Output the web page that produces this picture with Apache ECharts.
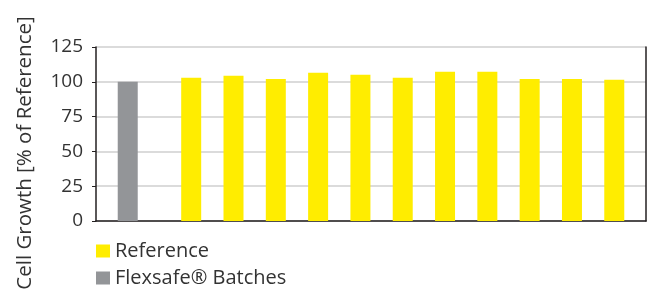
<!DOCTYPE html>
<html>
<head>
<meta charset="utf-8">
<script src="https://cdn.jsdelivr.net/npm/echarts@6/dist/echarts.min.js"></script>
<style>
  html, body { margin: 0; padding: 0; background: #fff; }
  #chart { width: 654px; height: 291px; }
</style>
</head>
<body>
<div id="chart"></div>
<script>
// values
const flexsafeBatches = [100];
const referenceValues = [102.9, 104.3, 102.1, 106.5, 105.0, 102.9, 107.2, 107.2, 102.1, 102.1, 101.4];
const yTicks = [0, 25, 50, 75, 100, 125];
const seriesNames = ["Reference", "Flexsafe\u00AE Batches"];

// slots on the x axis: grey batch first, then a gap, then the reference bars every other slot
const slotCount = 26;
const greySlot = 1;
const firstRefSlot = 4;

const categories = [];
const greyData = [];
const refData = [];
for (let i = 0; i < slotCount; i++) {
  categories.push(String(i));
  greyData.push(i === greySlot ? flexsafeBatches[0] : "-");
  const k = (i - firstRefSlot) / 2;
  refData.push(i >= firstRefSlot && Number.isInteger(k) && k < referenceValues.length ? referenceValues[k] : "-");
}

const chart = echarts.init(document.getElementById("chart"));
const font = "'Open Sans', 'Noto Sans', sans-serif";
const textColor = "#333";

// one legend per row so they stack like the original
const legendRow = (name, top) => ({
  left: 91,
  top: top,
  icon: "rect",
  itemWidth: 14,
  itemHeight: 13,
  textStyle: { fontSize: 20, color: textColor, fontFamily: font },
  data: [name]
});

chart.setOption({
  animation: false,
  textStyle: { fontFamily: font },
  grid: { left: 96, right: 8, top: 47, bottom: 70, outerBoundsMode: "none" },
  legend: [legendRow(seriesNames[0], 236), legendRow(seriesNames[1], 263)],
  xAxis: {
    type: "category",
    data: categories,
    axisLine: { lineStyle: { color: "#231f20", width: 1.5 } },
    axisTick: { show: false },
    axisLabel: { show: false }
  },
  yAxis: [
    {
      type: "value",
      min: yTicks[0],
      max: yTicks[yTicks.length - 1],
      interval: 25,
      name: "Cell Growth [% of Reference]",
      nameLocation: "middle",
      nameGap: 60,
      nameTextStyle: { fontSize: 20.5, color: textColor, padding: [0, 38, 0, 0] },
      axisLine: { show: true, lineStyle: { color: "#231f20", width: 1.5 } },
      axisTick: { show: true, length: 4, lineStyle: { color: "#231f20" } },
      axisLabel: { fontSize: 19, color: textColor, margin: 13 },
      splitLine: { lineStyle: { color: "#cfcfcf", width: 1.5 } }
    },
    {
      type: "value",
      position: "right",
      min: yTicks[0],
      max: yTicks[yTicks.length - 1],
      interval: 25,
      axisLine: { show: true, lineStyle: { color: "#231f20", width: 1.5 } },
      axisTick: { show: false },
      axisLabel: { show: false },
      splitLine: { show: false }
    }
  ],
  series: [
    {
      name: seriesNames[0],
      type: "bar",
      data: refData,
      barWidth: 20,
      barGap: "-100%",
      itemStyle: { color: "#ffed00" }
    },
    {
      name: seriesNames[1],
      type: "bar",
      data: greyData,
      barWidth: 20,
      itemStyle: { color: "#939598" }
    }
  ]
});
</script>
</body>
</html>
